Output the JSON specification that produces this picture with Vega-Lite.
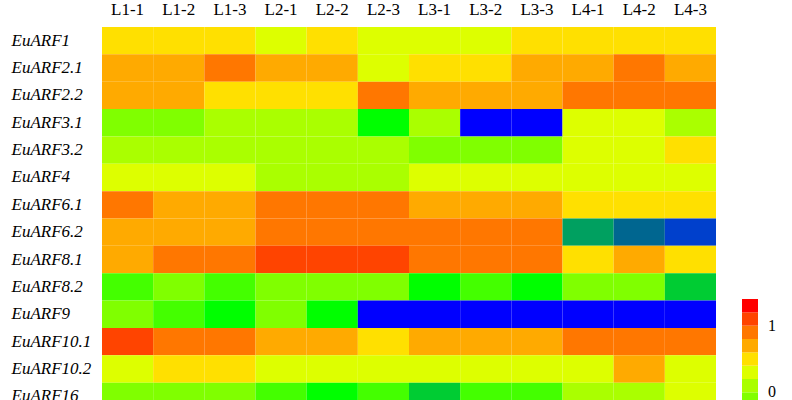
{
  "$schema": "https://vega.github.io/schema/vega-lite/v6.json",
  "width": 614,
  "height": 383,
  "autosize": {"type": "none"},
  "padding": {"left": 102, "top": 27, "right": 76, "bottom": 0},
  "background": "white",
  "config": {
    "view": {"stroke": null},
    "font": "Liberation Serif",
    "axis": {"labelFont": "Liberation Serif", "labelColor": "black", "ticks": false, "domain": false, "grid": false, "title": null},
    "legend": {"labelFont": "Liberation Serif"}
  },
  "data": {"values": [
    {"g":"EuARF1","c":"L1-1","v":0.5},{"g":"EuARF1","c":"L1-2","v":0.5},{"g":"EuARF1","c":"L1-3","v":0.5},{"g":"EuARF1","c":"L2-1","v":0.3},{"g":"EuARF1","c":"L2-2","v":0.5},{"g":"EuARF1","c":"L2-3","v":0.3},{"g":"EuARF1","c":"L3-1","v":0.3},{"g":"EuARF1","c":"L3-2","v":0.3},{"g":"EuARF1","c":"L3-3","v":0.5},{"g":"EuARF1","c":"L4-1","v":0.5},{"g":"EuARF1","c":"L4-2","v":0.5},{"g":"EuARF1","c":"L4-3","v":0.5},
    {"g":"EuARF2.1","c":"L1-1","v":0.7},{"g":"EuARF2.1","c":"L1-2","v":0.7},{"g":"EuARF2.1","c":"L1-3","v":0.9},{"g":"EuARF2.1","c":"L2-1","v":0.7},{"g":"EuARF2.1","c":"L2-2","v":0.7},{"g":"EuARF2.1","c":"L2-3","v":0.3},{"g":"EuARF2.1","c":"L3-1","v":0.5},{"g":"EuARF2.1","c":"L3-2","v":0.5},{"g":"EuARF2.1","c":"L3-3","v":0.7},{"g":"EuARF2.1","c":"L4-1","v":0.7},{"g":"EuARF2.1","c":"L4-2","v":0.9},{"g":"EuARF2.1","c":"L4-3","v":0.7},
    {"g":"EuARF2.2","c":"L1-1","v":0.7},{"g":"EuARF2.2","c":"L1-2","v":0.7},{"g":"EuARF2.2","c":"L1-3","v":0.5},{"g":"EuARF2.2","c":"L2-1","v":0.5},{"g":"EuARF2.2","c":"L2-2","v":0.5},{"g":"EuARF2.2","c":"L2-3","v":0.9},{"g":"EuARF2.2","c":"L3-1","v":0.7},{"g":"EuARF2.2","c":"L3-2","v":0.7},{"g":"EuARF2.2","c":"L3-3","v":0.7},{"g":"EuARF2.2","c":"L4-1","v":0.9},{"g":"EuARF2.2","c":"L4-2","v":0.9},{"g":"EuARF2.2","c":"L4-3","v":0.9},
    {"g":"EuARF3.1","c":"L1-1","v":-0.1},{"g":"EuARF3.1","c":"L1-2","v":-0.1},{"g":"EuARF3.1","c":"L1-3","v":0.1},{"g":"EuARF3.1","c":"L2-1","v":0.1},{"g":"EuARF3.1","c":"L2-2","v":0.1},{"g":"EuARF3.1","c":"L2-3","v":-0.5},{"g":"EuARF3.1","c":"L3-1","v":0.1},{"g":"EuARF3.1","c":"L3-2","v":-1.5},{"g":"EuARF3.1","c":"L3-3","v":-1.5},{"g":"EuARF3.1","c":"L4-1","v":0.3},{"g":"EuARF3.1","c":"L4-2","v":0.3},{"g":"EuARF3.1","c":"L4-3","v":0.1},
    {"g":"EuARF3.2","c":"L1-1","v":0.1},{"g":"EuARF3.2","c":"L1-2","v":0.1},{"g":"EuARF3.2","c":"L1-3","v":0.1},{"g":"EuARF3.2","c":"L2-1","v":0.1},{"g":"EuARF3.2","c":"L2-2","v":0.1},{"g":"EuARF3.2","c":"L2-3","v":0.1},{"g":"EuARF3.2","c":"L3-1","v":-0.1},{"g":"EuARF3.2","c":"L3-2","v":-0.1},{"g":"EuARF3.2","c":"L3-3","v":-0.1},{"g":"EuARF3.2","c":"L4-1","v":0.3},{"g":"EuARF3.2","c":"L4-2","v":0.3},{"g":"EuARF3.2","c":"L4-3","v":0.5},
    {"g":"EuARF4","c":"L1-1","v":0.3},{"g":"EuARF4","c":"L1-2","v":0.3},{"g":"EuARF4","c":"L1-3","v":0.3},{"g":"EuARF4","c":"L2-1","v":0.1},{"g":"EuARF4","c":"L2-2","v":0.1},{"g":"EuARF4","c":"L2-3","v":0.1},{"g":"EuARF4","c":"L3-1","v":0.3},{"g":"EuARF4","c":"L3-2","v":0.3},{"g":"EuARF4","c":"L3-3","v":0.3},{"g":"EuARF4","c":"L4-1","v":0.3},{"g":"EuARF4","c":"L4-2","v":0.3},{"g":"EuARF4","c":"L4-3","v":0.3},
    {"g":"EuARF6.1","c":"L1-1","v":0.9},{"g":"EuARF6.1","c":"L1-2","v":0.7},{"g":"EuARF6.1","c":"L1-3","v":0.7},{"g":"EuARF6.1","c":"L2-1","v":0.9},{"g":"EuARF6.1","c":"L2-2","v":0.9},{"g":"EuARF6.1","c":"L2-3","v":0.9},{"g":"EuARF6.1","c":"L3-1","v":0.7},{"g":"EuARF6.1","c":"L3-2","v":0.7},{"g":"EuARF6.1","c":"L3-3","v":0.7},{"g":"EuARF6.1","c":"L4-1","v":0.5},{"g":"EuARF6.1","c":"L4-2","v":0.5},{"g":"EuARF6.1","c":"L4-3","v":0.5},
    {"g":"EuARF6.2","c":"L1-1","v":0.7},{"g":"EuARF6.2","c":"L1-2","v":0.7},{"g":"EuARF6.2","c":"L1-3","v":0.7},{"g":"EuARF6.2","c":"L2-1","v":0.9},{"g":"EuARF6.2","c":"L2-2","v":0.9},{"g":"EuARF6.2","c":"L2-3","v":0.9},{"g":"EuARF6.2","c":"L3-1","v":0.9},{"g":"EuARF6.2","c":"L3-2","v":0.9},{"g":"EuARF6.2","c":"L3-3","v":0.9},{"g":"EuARF6.2","c":"L4-1","v":-0.9},{"g":"EuARF6.2","c":"L4-2","v":-1.1},{"g":"EuARF6.2","c":"L4-3","v":-1.3},
    {"g":"EuARF8.1","c":"L1-1","v":0.7},{"g":"EuARF8.1","c":"L1-2","v":0.9},{"g":"EuARF8.1","c":"L1-3","v":0.9},{"g":"EuARF8.1","c":"L2-1","v":1.1},{"g":"EuARF8.1","c":"L2-2","v":1.1},{"g":"EuARF8.1","c":"L2-3","v":1.1},{"g":"EuARF8.1","c":"L3-1","v":0.9},{"g":"EuARF8.1","c":"L3-2","v":0.9},{"g":"EuARF8.1","c":"L3-3","v":0.9},{"g":"EuARF8.1","c":"L4-1","v":0.5},{"g":"EuARF8.1","c":"L4-2","v":0.7},{"g":"EuARF8.1","c":"L4-3","v":0.5},
    {"g":"EuARF8.2","c":"L1-1","v":-0.3},{"g":"EuARF8.2","c":"L1-2","v":-0.1},{"g":"EuARF8.2","c":"L1-3","v":-0.3},{"g":"EuARF8.2","c":"L2-1","v":-0.1},{"g":"EuARF8.2","c":"L2-2","v":-0.1},{"g":"EuARF8.2","c":"L2-3","v":-0.1},{"g":"EuARF8.2","c":"L3-1","v":-0.5},{"g":"EuARF8.2","c":"L3-2","v":-0.3},{"g":"EuARF8.2","c":"L3-3","v":-0.5},{"g":"EuARF8.2","c":"L4-1","v":-0.1},{"g":"EuARF8.2","c":"L4-2","v":-0.1},{"g":"EuARF8.2","c":"L4-3","v":-0.7},
    {"g":"EuARF9","c":"L1-1","v":-0.1},{"g":"EuARF9","c":"L1-2","v":-0.3},{"g":"EuARF9","c":"L1-3","v":-0.5},{"g":"EuARF9","c":"L2-1","v":-0.1},{"g":"EuARF9","c":"L2-2","v":-0.5},{"g":"EuARF9","c":"L2-3","v":-1.5},{"g":"EuARF9","c":"L3-1","v":-1.5},{"g":"EuARF9","c":"L3-2","v":-1.5},{"g":"EuARF9","c":"L3-3","v":-1.5},{"g":"EuARF9","c":"L4-1","v":-1.5},{"g":"EuARF9","c":"L4-2","v":-1.5},{"g":"EuARF9","c":"L4-3","v":-1.5},
    {"g":"EuARF10.1","c":"L1-1","v":1.1},{"g":"EuARF10.1","c":"L1-2","v":0.9},{"g":"EuARF10.1","c":"L1-3","v":0.9},{"g":"EuARF10.1","c":"L2-1","v":0.7},{"g":"EuARF10.1","c":"L2-2","v":0.7},{"g":"EuARF10.1","c":"L2-3","v":0.5},{"g":"EuARF10.1","c":"L3-1","v":0.7},{"g":"EuARF10.1","c":"L3-2","v":0.7},{"g":"EuARF10.1","c":"L3-3","v":0.7},{"g":"EuARF10.1","c":"L4-1","v":0.9},{"g":"EuARF10.1","c":"L4-2","v":0.9},{"g":"EuARF10.1","c":"L4-3","v":0.9},
    {"g":"EuARF10.2","c":"L1-1","v":0.3},{"g":"EuARF10.2","c":"L1-2","v":0.5},{"g":"EuARF10.2","c":"L1-3","v":0.5},{"g":"EuARF10.2","c":"L2-1","v":0.3},{"g":"EuARF10.2","c":"L2-2","v":0.3},{"g":"EuARF10.2","c":"L2-3","v":0.3},{"g":"EuARF10.2","c":"L3-1","v":0.3},{"g":"EuARF10.2","c":"L3-2","v":0.3},{"g":"EuARF10.2","c":"L3-3","v":0.3},{"g":"EuARF10.2","c":"L4-1","v":0.3},{"g":"EuARF10.2","c":"L4-2","v":0.7},{"g":"EuARF10.2","c":"L4-3","v":0.3},
    {"g":"EuARF16","c":"L1-1","v":-0.1},{"g":"EuARF16","c":"L1-2","v":-0.1},{"g":"EuARF16","c":"L1-3","v":-0.1},{"g":"EuARF16","c":"L2-1","v":-0.3},{"g":"EuARF16","c":"L2-2","v":-0.5},{"g":"EuARF16","c":"L2-3","v":-0.3},{"g":"EuARF16","c":"L3-1","v":-0.7},{"g":"EuARF16","c":"L3-2","v":-0.3},{"g":"EuARF16","c":"L3-3","v":-0.3},{"g":"EuARF16","c":"L4-1","v":0.1},{"g":"EuARF16","c":"L4-2","v":0.1},{"g":"EuARF16","c":"L4-3","v":0.3}
  ]},
  "mark": {"type": "rect", "strokeWidth": 0},
  "encoding": {
    "x": {"field": "c", "type": "nominal", "sort": null,
      "scale": {"paddingInner": 0, "paddingOuter": 0},
      "axis": {"orient": "top", "labelAngle": 0, "labelFont": "Liberation Serif", "labelFontSize": 17, "labelPadding": 9}},
    "y": {"field": "g", "type": "nominal", "sort": null,
      "scale": {"paddingInner": 0, "paddingOuter": 0},
      "axis": {"labelAlign": "left", "labelFont": "Liberation Serif", "labelFontSize": 17, "labelFontStyle": "italic", "labelPadding": 91}},
    "color": {"field": "v", "type": "quantitative",
      "scale": {"type": "quantize", "domain": [-1.6, 1.4], "nice": false, "zero": false,
        "range": ["#0000ff","#0040cc","#006690","#00a060","#00cc33","#00ff00","#44ff00","#80ff00","#aaff00","#ddff00","#ffe000","#ffaa00","#ff7700","#ff4400","#ff0000"]},
      "legend": {"orient": "none", "legendX": 640, "legendY": 272, "direction": "vertical",
        "title": null, "gradientLength": 190, "gradientThickness": 20, "gradientStrokeWidth": 0,
        "labelFont": "Liberation Serif", "labelFontSize": 16, "labelColor": "black", "labelOffset": 10,
        "labelOverlap": false,
        "labelExpr": "abs(datum.value) < 0.01 ? '0' : abs(datum.value - 1) < 0.01 ? '1' : ''"}}
  }
}
